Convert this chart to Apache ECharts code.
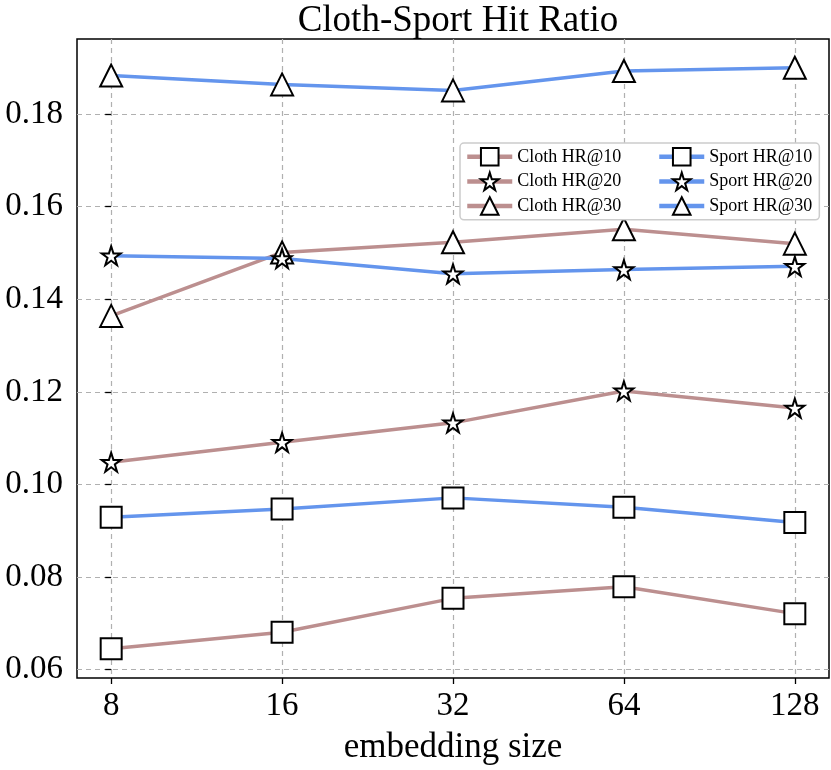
<!DOCTYPE html>
<html>
<head>
<meta charset="utf-8">
<script src="https://cdn.jsdelivr.net/npm/echarts@6/dist/echarts.min.js"></script>
<style>
  html, body { margin: 0; padding: 0; background: #fff; }
  #main { width: 831px; height: 770px; }
</style>
</head>
<body>
<div id="main"></div>
<script>
var myChart = echarts.init(document.getElementById('main'));

var sizes = ['8', '16', '32', '64', '128'];
var yTicks = [0.06, 0.08, 0.10, 0.12, 0.14, 0.16, 0.18];

var clothHR10 = [0.0645, 0.0681, 0.0754, 0.0779, 0.0721];
var clothHR20 = [0.1048, 0.1091, 0.1133, 0.1202, 0.1165];
var clothHR30 = [0.1364, 0.1501, 0.1523, 0.1551, 0.1520];
var sportHR10 = [0.0929, 0.0947, 0.0971, 0.0951, 0.0918];
var sportHR20 = [0.1494, 0.1488, 0.1455, 0.1464, 0.1471];
var sportHR30 = [0.1883, 0.1864, 0.1851, 0.1893, 0.1900];

var brown = '#bc8f8f';
var blue = '#6495ed';
var font = '"Liberation Serif", "DejaVu Serif", serif';
var star = 'path://M50,2 L61,36 L97,36 L68,57 L79,92 L50,71 L21,92 L32,57 L3,36 L39,36 Z';

function pts(vals) {
    return vals.map(function (v, i) { return [i, v]; });
}

// white markers with black edge, line in series colour
function line(name, vals, color, symbol, size) {
    return {
        name: name,
        type: 'line',
        data: pts(vals),
        symbol: symbol,
        symbolSize: size,
        showAllSymbol: true,
        color: color,
        lineStyle: { color: color, width: 3.5 },
        itemStyle: { color: '#fff', borderColor: '#000', borderWidth: 2 },
        emphasis: { disabled: true },
        z: 3
    };
}

var series = [
    line('Cloth HR@10', clothHR10, brown, 'rect', 21),
    line('Cloth HR@20', clothHR20, brown, star, 19),
    line('Cloth HR@30', clothHR30, brown, 'triangle', 22),
    line('Sport HR@10', sportHR10, blue, 'rect', 21),
    line('Sport HR@20', sportHR20, blue, star, 19),
    line('Sport HR@30', sportHR30, blue, 'triangle', 22)
];

var legendText = { fontFamily: font, fontSize: 18, color: '#000' };

option = {
    animation: false,
    title: {
        text: 'Cloth-Sport Hit Ratio',
        left: 453,
        textAlign: 'center',
        top: -2,
        textStyle: { fontFamily: font, fontSize: 37, fontWeight: 'normal', color: '#000' }
    },
    legend: [{
        data: ['Cloth HR@10', 'Cloth HR@20', 'Cloth HR@30'],
        orient: 'vertical',
        left: 460,
        top: 143,
        itemWidth: 45,
        itemHeight: 22,
        itemGap: 5,
        padding: [4, 198, 4, 5],
        backgroundColor: '#fff',
        borderColor: '#cccccc',
        borderWidth: 1.5,
        borderRadius: 4,
        lineStyle: { width: 4.5 },
        textStyle: legendText,
        z: 5
    }, {
        data: ['Sport HR@10', 'Sport HR@20', 'Sport HR@30'],
        orient: 'vertical',
        left: 652,
        top: 143,
        itemWidth: 45,
        itemHeight: 22,
        itemGap: 5,
        padding: [4, 5, 4, 5],
        lineStyle: { width: 4.5 },
        textStyle: legendText,
        z: 6
    }],
    grid: {
        left: 77,
        right: 2,
        top: 39,
        bottom: 92,
        show: true,
        borderColor: '#000',
        borderWidth: 1.5,
        backgroundColor: 'transparent'
    },
    xAxis: {
        type: 'value',
        min: -0.2,
        max: 4.2,
        name: 'embedding size',
        nameLocation: 'middle',
        nameGap: 52,
        nameTextStyle: { fontFamily: font, fontSize: 35, color: '#000' },
        axisLine: { show: false },
        axisTick: { show: true, length: 6, customValues: [0, 1, 2, 3, 4], lineStyle: { color: '#000', width: 1.3 } },
        axisLabel: {
            customValues: [0, 1, 2, 3, 4],
            margin: 12,
            fontFamily: font, fontSize: 33, color: '#000',
            formatter: function (v) { return sizes[Math.round(v)]; }
        },
        splitLine: { show: true, lineStyle: { color: '#b0b0b0', type: [5, 4], width: 1.2 } }
    },
    yAxis: {
        type: 'value',
        min: 0.0582,
        max: 0.1962,
        axisLine: { show: false },
        axisTick: { show: true, length: 6, customValues: yTicks, lineStyle: { color: '#000', width: 1.3 } },
        axisLabel: {
            customValues: yTicks,
            margin: 14,
            fontFamily: font, fontSize: 33, color: '#000',
            formatter: function (v) { return v.toFixed(2); }
        },
        splitLine: { show: true, lineStyle: { color: '#b0b0b0', type: [5, 4], width: 1.2 } }
    },
    series: series
};
myChart.setOption(option);
</script>
</body>
</html>
